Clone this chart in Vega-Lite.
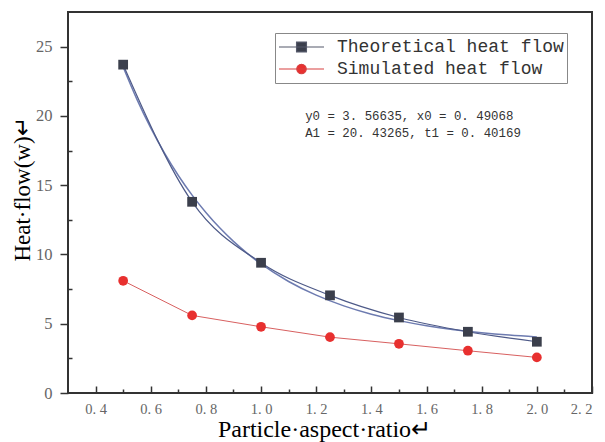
{
  "$schema": "https://vega.github.io/schema/vega-lite/v6.json",
  "width": 524,
  "height": 381,
  "autosize": {"type": "none"},
  "padding": {"left": 68, "top": 12, "right": 13, "bottom": 49},
  "background": "white",
  "config": {
    "view": {"stroke": "#333", "strokeWidth": 2},
    "axis": {"grid": false, "domain": false, "tickColor": "#333", "tickWidth": 1.5,
      "labelFont": "Liberation Serif", "labelFontSize": 16.5, "labelColor": "#666",
      "titleFont": "Liberation Serif", "titleFontWeight": "normal", "titleColor": "#000"}
  },
  "resolve": {"axis": {"x": "independent", "y": "independent"}},
  "datasets": {
    "points": [
      {"x": 0.5, "y": 23.7, "series": "Theoretical heat flow"},
      {"x": 0.75, "y": 13.8, "series": "Theoretical heat flow"},
      {"x": 1.0, "y": 9.4, "series": "Theoretical heat flow"},
      {"x": 1.25, "y": 7.05, "series": "Theoretical heat flow"},
      {"x": 1.5, "y": 5.45, "series": "Theoretical heat flow"},
      {"x": 1.75, "y": 4.42, "series": "Theoretical heat flow"},
      {"x": 2.0, "y": 3.7, "series": "Theoretical heat flow"},
      {"x": 0.5, "y": 8.1, "series": "Simulated heat flow"},
      {"x": 0.75, "y": 5.6, "series": "Simulated heat flow"},
      {"x": 1.0, "y": 4.78, "series": "Simulated heat flow"},
      {"x": 1.25, "y": 4.03, "series": "Simulated heat flow"},
      {"x": 1.5, "y": 3.55, "series": "Simulated heat flow"},
      {"x": 1.75, "y": 3.05, "series": "Simulated heat flow"},
      {"x": 2.0, "y": 2.57, "series": "Simulated heat flow"}
    ],
    "fit": [
      {"x": 0.5, "y": 23.53}, {"x": 0.55, "y": 21.194}, {"x": 0.6, "y": 19.131},
      {"x": 0.65, "y": 17.309}, {"x": 0.7, "y": 15.701}, {"x": 0.75, "y": 14.28},
      {"x": 0.8, "y": 13.027}, {"x": 0.85, "y": 11.92}, {"x": 0.9, "y": 10.942},
      {"x": 0.95, "y": 10.079}, {"x": 1.0, "y": 9.316}, {"x": 1.1, "y": 8.049},
      {"x": 1.2, "y": 7.061}, {"x": 1.3, "y": 6.291}, {"x": 1.4, "y": 5.69},
      {"x": 1.5, "y": 5.223}, {"x": 1.6, "y": 4.858}, {"x": 1.7, "y": 4.573},
      {"x": 1.8, "y": 4.351}, {"x": 1.9, "y": 4.178}, {"x": 2.0, "y": 4.043}
    ],
    "notes": [
      {"x": 1.16, "y": 20.0, "t": "y0 = 3. 56635,  x0 = 0. 49068"},
      {"x": 1.16, "y": 18.75, "t": "A1 = 20. 43265,  t1 = 0. 40169"}
    ]
  },
  "encoding": {
    "x": {"field": "x", "type": "quantitative",
      "scale": {"domain": [0.3, 2.2], "nice": false, "zero": false}, "axis": null},
    "y": {"field": "y", "type": "quantitative",
      "scale": {"domain": [0, 27.5], "nice": false}, "axis": null}
  },
  "layer": [
    {"data": {"name": "fit"}, "mark": {"type": "line", "color": "#6d7bb0", "strokeWidth": 1.5, "interpolate": "monotone"},
      "encoding": {
        "x": {"field": "x", "type": "quantitative",
          "scale": {"domain": [0.3, 2.2], "nice": false, "zero": false},
          "axis": {"orient": "bottom", "title": "Particle·aspect·ratio↵", "titleFontSize": 24, "titleX": 256,
            "titleY": 43, "titleBaseline": "alphabetic",
            "values": [0.4,0.6,0.8,1.0,1.2,1.4,1.6,1.8,2.0,2.2], "ticks": false,
            "labelFontSize": 14.5,
            "labelExpr": "replace(format(datum.value, '.1f'), '.', '. ')", "labelPadding": 9}},
        "y": {"field": "y", "type": "quantitative",
          "scale": {"domain": [0, 27.5], "nice": false},
          "axis": {"orient": "left", "title": "Heat·flow(w)↵", "titlePadding": 1, "titleFontSize": 23, "titleY": 177,
            "values": [0,5,10,15,20,25], "tickSize": 8, "labelPadding": 8}}
      }},
    {"data": {"name": "points"}, "transform": [{"filter": "datum.series === 'Theoretical heat flow'"}],
      "mark": {"type": "line", "color": "#4e5a88", "strokeWidth": 1.2, "interpolate": "monotone"},
      "encoding": {
        "x": {"field": "x", "type": "quantitative",
          "scale": {"domain": [0.3, 2.2], "nice": false, "zero": false},
          "axis": {"orient": "bottom", "title": null, "labels": false, "offset": -7, "tickSize": 7,
            "values": [0.4,0.6,0.8,1.0,1.2,1.4,1.6,1.8,2.0,2.2]}},
        "y": {"field": "y", "type": "quantitative",
          "scale": {"domain": [0, 27.5], "nice": false},
          "axis": {"orient": "left", "title": null, "labels": false, "offset": -4, "tickSize": 4,
            "values": [2.5,7.5,12.5,17.5,22.5]}}
      }},
    {"data": {"name": "points"}, "transform": [{"filter": "datum.series === 'Simulated heat flow'"}],
      "mark": {"type": "line", "color": "#d86060", "strokeWidth": 1},
      "encoding": {
        "x": {"field": "x", "type": "quantitative",
          "scale": {"domain": [0.3, 2.2], "nice": false, "zero": false},
          "axis": {"orient": "bottom", "title": null, "labels": false, "offset": -4, "tickSize": 4,
            "values": [0.5,0.7,0.9,1.1,1.3,1.5,1.7,1.9,2.1]}}
      }},
    {"data": {"name": "points"},
      "mark": {"type": "point", "filled": true, "opacity": 1},
      "encoding": {
        "color": {"field": "series", "type": "nominal",
          "scale": {"domain": ["Theoretical heat flow", "Simulated heat flow"], "range": ["#3b3f4c", "#e8302f"]},
          "legend": {"title": null, "orient": "none", "legendX": 207, "legendY": 21,
            "strokeColor": "#888", "fillColor": "white", "padding": 3,
            "symbolSize": 2025, "clipHeight": 22, "rowPadding": 0, "symbolOpacity": 1,
            "labelFont": "Liberation Mono", "labelFontSize": 18, "labelColor": "#333", "labelOffset": 12,
            "labelLimit": 400, "symbolStrokeWidth": 1.2,
            "encode": {"symbols": {"update": {
              "shape": {"signal": "datum.value === 'Theoretical heat flow' ? 'M-1,0H1M-0.22,-0.22H0.22V0.22H-0.22Z' : 'M-1,0H1M0.21,0A0.21,0.21,0,1,1,-0.21,0A0.21,0.21,0,1,1,0.21,0Z'"},
              "stroke": {"signal": "datum.value === 'Theoretical heat flow' ? '#55596a' : '#d84040'"},
              "strokeWidth": {"value": 1.2}
            }}}}},
        "shape": {"condition": {"test": "datum.series === 'Theoretical heat flow'", "value": "square"}, "value": "circle"},
        "size": {"value": 95}
      }},
    {"data": {"name": "notes"},
      "mark": {"type": "text", "align": "left", "baseline": "middle", "font": "Liberation Mono", "fontSize": 12.4, "color": "#333"},
      "encoding": {"text": {"field": "t"}}}
  ]
}
